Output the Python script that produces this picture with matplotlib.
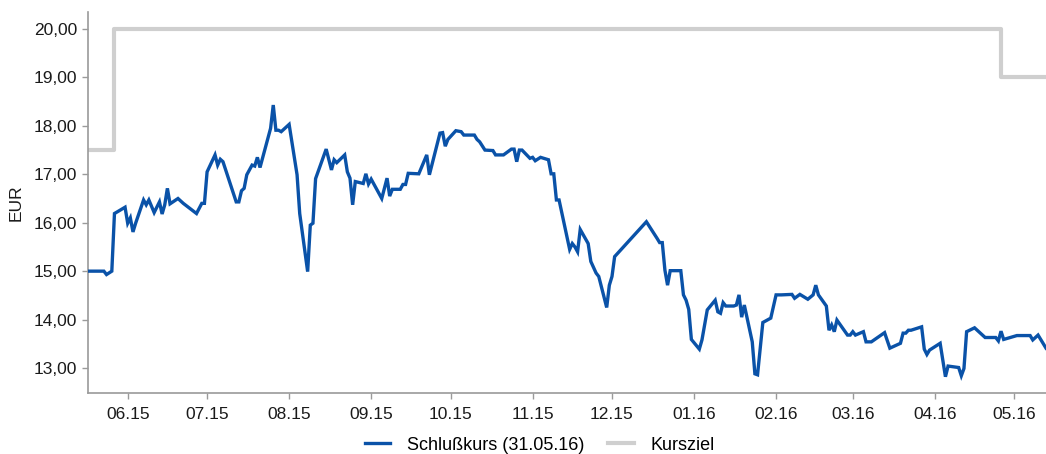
import numpy as np
import pandas as pd
import matplotlib
matplotlib.use("Agg")
import matplotlib.pyplot as plt
import matplotlib.dates as mdates
from matplotlib.ticker import FuncFormatter, MultipleLocator

plt.rcParams['font.family'] = ['Liberation Sans', 'DejaVu Sans']

# Schlusskurs
kursDates = [
	"2015-05-17", "2015-05-23", "2015-05-24", "2015-05-26", "2015-05-27", "2015-05-31",
	"2015-06-01", "2015-06-02", "2015-06-03", "2015-06-04", "2015-06-07", "2015-06-08",
	"2015-06-09", "2015-06-11", "2015-06-13", "2015-06-14", "2015-06-15", "2015-06-16",
	"2015-06-17", "2015-06-20", "2015-06-22", "2015-06-27", "2015-06-29", "2015-06-30",
	"2015-07-01", "2015-07-04", "2015-07-05", "2015-07-06", "2015-07-07", "2015-07-12",
	"2015-07-13", "2015-07-14", "2015-07-15", "2015-07-16", "2015-07-18", "2015-07-19",
	"2015-07-20", "2015-07-21", "2015-07-25", "2015-07-26", "2015-07-27", "2015-07-28",
	"2015-07-29", "2015-08-01", "2015-08-04", "2015-08-05", "2015-08-08", "2015-08-09",
	"2015-08-10", "2015-08-11", "2015-08-15", "2015-08-17", "2015-08-18", "2015-08-19",
	"2015-08-22", "2015-08-23", "2015-08-24", "2015-08-25", "2015-08-26", "2015-08-29",
	"2015-08-30", "2015-08-31", "2015-09-01", "2015-09-05", "2015-09-07", "2015-09-08",
	"2015-09-09", "2015-09-12", "2015-09-13", "2015-09-14", "2015-09-15", "2015-09-19",
	"2015-09-22", "2015-09-23", "2015-09-27", "2015-09-28", "2015-09-29", "2015-09-30",
	"2015-10-03", "2015-10-05", "2015-10-06", "2015-10-10", "2015-10-11", "2015-10-12",
	"2015-10-14", "2015-10-17", "2015-10-18", "2015-10-21", "2015-10-24", "2015-10-25",
	"2015-10-26", "2015-10-27", "2015-10-28", "2015-10-31", "2015-11-01", "2015-11-02",
	"2015-11-04", "2015-11-07", "2015-11-08", "2015-11-09", "2015-11-10", "2015-11-11",
	"2015-11-15", "2015-11-16", "2015-11-17", "2015-11-18", "2015-11-19", "2015-11-22",
	"2015-11-23", "2015-11-25", "2015-11-26", "2015-11-29", "2015-11-30", "2015-12-01",
	"2015-12-02", "2015-12-14", "2015-12-18", "2015-12-19", "2015-12-20", "2015-12-21",
	"2015-12-22", "2015-12-23", "2015-12-27", "2015-12-28", "2015-12-29", "2015-12-30",
	"2015-12-31", "2016-01-03", "2016-01-04", "2016-01-06", "2016-01-09", "2016-01-10",
	"2016-01-11", "2016-01-12", "2016-01-13", "2016-01-16", "2016-01-17", "2016-01-18",
	"2016-01-19", "2016-01-20", "2016-01-23", "2016-01-24", "2016-01-25", "2016-01-27",
	"2016-01-30", "2016-02-01", "2016-02-03", "2016-02-07", "2016-02-08", "2016-02-10",
	"2016-02-13", "2016-02-15", "2016-02-16", "2016-02-17", "2016-02-20", "2016-02-21",
	"2016-02-22", "2016-02-23", "2016-02-24", "2016-02-28", "2016-02-29", "2016-03-01",
	"2016-03-02", "2016-03-05", "2016-03-06", "2016-03-08", "2016-03-13", "2016-03-15",
	"2016-03-19", "2016-03-20", "2016-03-21", "2016-03-22", "2016-03-23", "2016-03-27",
	"2016-03-28", "2016-03-29", "2016-03-30", "2016-04-03", "2016-04-05", "2016-04-06",
	"2016-04-10", "2016-04-11", "2016-04-12", "2016-04-13", "2016-04-16", "2016-04-20",
	"2016-04-24", "2016-04-25", "2016-04-26", "2016-04-27", "2016-05-02", "2016-05-07",
	"2016-05-08", "2016-05-10", "2016-05-13",
]
kursValues = [
	15.00, 15.00, 14.93, 15.00, 16.19, 16.32,
	15.99, 16.10, 15.81, 15.99, 16.47, 16.37,
	16.47, 16.21, 16.43, 16.18, 16.37, 16.71,
	16.39, 16.50, 16.40, 16.19, 16.40, 16.40,
	17.05, 17.40, 17.19, 17.31, 17.26, 16.43,
	16.43, 16.66, 16.71, 16.99, 17.19, 17.17,
	17.35, 17.14, 17.95, 18.43, 17.91, 17.91,
	17.88, 18.03, 16.99, 16.19, 14.99, 15.95,
	15.99, 16.91, 17.52, 17.09, 17.30, 17.24,
	17.40, 17.05, 16.92, 16.37, 16.85, 16.81,
	17.01, 16.80, 16.90, 16.50, 16.92, 16.55,
	16.69, 16.69, 16.79, 16.79, 17.02, 17.01,
	17.40, 16.99, 17.85, 17.86, 17.58, 17.72,
	17.90, 17.88, 17.81, 17.81, 17.72, 17.67,
	17.50, 17.49, 17.40, 17.40, 17.52, 17.52,
	17.26, 17.50, 17.50, 17.33, 17.35, 17.28,
	17.35, 17.30, 17.01, 17.01, 16.47, 16.47,
	15.45, 15.57, 15.50, 15.40, 15.86, 15.57,
	15.20, 14.96, 14.89, 14.25, 14.71, 14.89,
	15.30, 16.02, 15.68, 15.59, 15.59, 15.02,
	14.71, 15.01, 15.01, 14.51, 14.40, 14.21,
	13.59, 13.39, 13.58, 14.20, 14.40, 14.16,
	14.13, 14.35, 14.28, 14.28, 14.30, 14.51,
	14.05, 14.30, 13.54, 12.88, 12.86, 13.94,
	14.03, 14.51, 14.51, 14.52, 14.44, 14.52,
	14.42, 14.51, 14.71, 14.51, 14.28, 13.78,
	13.89, 13.75, 13.99, 13.68, 13.68, 13.75,
	13.68, 13.75, 13.54, 13.54, 13.73, 13.41,
	13.51, 13.72, 13.72, 13.78, 13.78, 13.85,
	13.39, 13.28, 13.37, 13.51, 12.82, 13.04,
	13.01, 12.84, 12.99, 13.75, 13.83, 13.63,
	13.63, 13.56, 13.76, 13.59, 13.67, 13.67,
	13.58, 13.68, 13.41,
]

# Kursziel (step line)
zielDates = ["2015-05-17", "2015-05-27", "2016-04-26", "2016-05-13"]
zielValues = [17.5, 20.0, 19.0, 19.0]

kurs = pd.Series(kursValues, index=pd.to_datetime(kursDates))
ziel = pd.Series(zielValues, index=pd.to_datetime(zielDates))

blue = "#0a52a8"
grey = "#cfcfcf"
axisGrey = "#9a9a9a"

fig = plt.figure(figsize=(10.46, 4.54), dpi=100)
ax = fig.add_axes([88 / 1046, 1 - 393 / 454, 1 - 88 / 1046, (393 - 12) / 454])

ax.plot(ziel.index, ziel.values, color=grey, lw=3.0, drawstyle="steps-post",
		label="Kursziel", zorder=2)
ax.plot(kurs.index, kurs.values, color=blue, lw=2.4, label="Schlußkurs (31.05.16)",
		zorder=3, solid_joinstyle="miter")

ax.set_xlim(pd.Timestamp("2015-05-17"), pd.Timestamp("2016-05-13"))
ax.set_ylim(12.484, 20.351)

ax.yaxis.set_major_locator(MultipleLocator(1.0))
ax.yaxis.set_major_formatter(FuncFormatter(lambda v, p: "{:.2f}".format(v).replace(".", ",")))
ax.xaxis.set_major_locator(mdates.MonthLocator(bymonthday=1))
ax.xaxis.set_major_formatter(mdates.DateFormatter("%m.%y"))

for side in ["top", "right"]:
	ax.spines[side].set_visible(False)
for side in ["left", "bottom"]:
	ax.spines[side].set_color(axisGrey)
	ax.spines[side].set_linewidth(1.2)

ax.tick_params(axis="both", colors=axisGrey, labelcolor="#1a1a1a", labelsize=12.5,
			   length=4, width=1)
ax.tick_params(axis="x", pad=6)
ax.tick_params(axis="y", pad=4)
ax.set_ylabel("EUR", fontsize=12.5, color="#1a1a1a", labelpad=7)

handles, labels = ax.get_legend_handles_labels()
fig.legend(handles[::-1], labels[::-1], loc="center", bbox_to_anchor=(540 / 1046, 1 - 445 / 454),
		   ncol=2, frameon=False, fontsize=13, handlelength=1.4, handletextpad=0.95,
		   columnspacing=1.3)

fig.savefig("out.png", dpi=100)
